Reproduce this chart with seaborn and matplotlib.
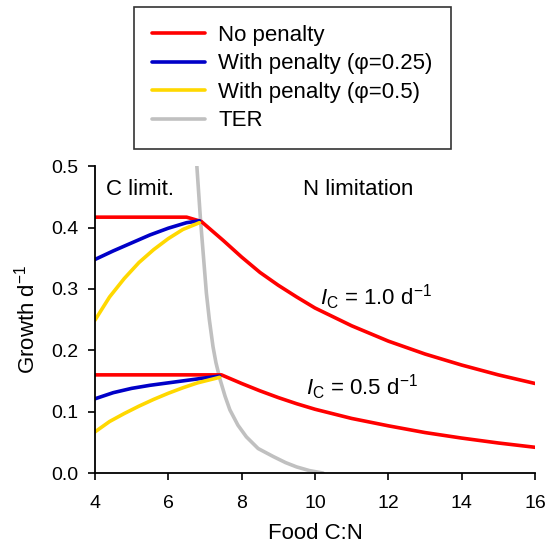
import matplotlib
matplotlib.use("Agg")
import matplotlib.pyplot as plt
import seaborn as sns
import pandas as pd
from matplotlib.ticker import FormatStrFormatter

# values
hi_red_x = [4.0, 5.0, 6.0, 6.5, 6.9, 7.5, 8.0, 8.5, 9.0, 9.5, 10.0, 11.0, 12.0, 13.0, 14.0, 15.0, 16.0]
hi_red_y = [0.417, 0.417, 0.417, 0.417, 0.410, 0.379, 0.352, 0.327, 0.306, 0.287, 0.269, 0.240, 0.215, 0.194, 0.176, 0.160, 0.146]
lo_red_x = [4.0, 5.0, 6.0, 7.0, 7.45, 8.0, 8.5, 9.0, 9.5, 10.0, 11.0, 12.0, 13.0, 14.0, 15.0, 16.0]
lo_red_y = [0.160, 0.160, 0.160, 0.160, 0.160, 0.146, 0.134, 0.123, 0.113, 0.104, 0.089, 0.077, 0.066, 0.057, 0.049, 0.042]

hi_blue_x = [4.0, 4.5, 5.0, 5.5, 6.0, 6.5, 6.85]
hi_blue_y = [0.348, 0.362, 0.375, 0.388, 0.399, 0.408, 0.411]
lo_blue_x = [4.0, 4.5, 5.0, 5.5, 6.0, 6.5, 7.0, 7.4]
lo_blue_y = [0.121, 0.131, 0.138, 0.143, 0.147, 0.151, 0.155, 0.158]

hi_yel_x = [4.0, 4.4, 4.8, 5.2, 5.6, 6.0, 6.4, 6.85]
hi_yel_y = [0.249, 0.287, 0.317, 0.343, 0.364, 0.382, 0.397, 0.408]
lo_yel_x = [4.0, 4.4, 4.8, 5.2, 5.6, 6.0, 6.4, 6.8, 7.4]
lo_yel_y = [0.067, 0.084, 0.097, 0.109, 0.120, 0.130, 0.139, 0.147, 0.156]

ter_x = [6.78, 6.88, 6.95, 7.04, 7.12, 7.22, 7.30, 7.41, 7.55, 7.68, 7.90, 8.13, 8.45, 8.86, 9.20, 9.50, 9.85, 10.22]
ter_y = [0.500, 0.412, 0.360, 0.293, 0.250, 0.206, 0.180, 0.153, 0.125, 0.103, 0.078, 0.059, 0.040, 0.027, 0.017, 0.010, 0.004, 0.000]

labels = ["No penalty", "With penalty (\u03c6=0.25)", "With penalty (\u03c6=0.5)", "TER"]
colors = ["#ff0000", "#0000c8", "#ffd800", "#c0c0c0"]

sns.set_style("ticks")
plt.rcParams['font.family'] = ['Liberation Sans', 'DejaVu Sans']
plt.rcParams['mathtext.fontset'] = 'custom'
plt.rcParams['mathtext.rm'] = 'Liberation Sans'
plt.rcParams['mathtext.it'] = 'Liberation Sans:italic'
for key in ['text.color', 'axes.labelcolor', 'xtick.color', 'ytick.color', 'axes.edgecolor']:
    plt.rcParams[key] = 'black'

fig = plt.figure(figsize=(5.55, 5.45), dpi=100)
ax = fig.add_axes([0.171, 0.132, 0.793, 0.563])

lw = 2.6
series = [
    (hi_red_x, hi_red_y, 0), (lo_red_x, lo_red_y, 0),
    (hi_blue_x, hi_blue_y, 1), (lo_blue_x, lo_blue_y, 1),
    (hi_yel_x, hi_yel_y, 2), (lo_yel_x, lo_yel_y, 2),
    (ter_x, ter_y, 3),
]
order = [6, 0, 1, 2, 3, 4, 5]
for i in order:
    xs, ys, k = series[i]
    df = pd.DataFrame({"x": xs, "y": ys})
    sns.lineplot(data=df, x="x", y="y", ax=ax, color=colors[k], lw=lw,
                 sort=False, estimator=None, legend=False)

ax.set_xlim(4, 16)
ax.set_ylim(0, 0.5)
ax.set_xticks([4, 6, 8, 10, 12, 14, 16])
ax.set_yticks([0, 0.1, 0.2, 0.3, 0.4, 0.5])
ax.yaxis.set_major_formatter(FormatStrFormatter('%.1f'))
ax.tick_params(labelsize=14, length=5, width=1.2, direction='out')
ax.tick_params(axis='x', pad=11)
ax.tick_params(axis='y', pad=7)
for s in ['top', 'right']:
    ax.spines[s].set_visible(False)
for s in ['left', 'bottom']:
    ax.spines[s].set_linewidth(1.3)
ax.set_xlabel("Food C:N", fontsize=16, labelpad=8)
ax.set_ylabel("Growth d$^{-1}$", fontsize=16, labelpad=8)

ax.text(4.3, 0.453, "C limit.", fontsize=16)
ax.text(9.67, 0.453, "N limitation", fontsize=16)
ax.text(10.13, 0.274, "$I_\\mathrm{C}$ = 1.0 d$^{-1}$", fontsize=16)
ax.text(9.75, 0.127, "$I_\\mathrm{C}$ = 0.5 d$^{-1}$", fontsize=16)

handles = [plt.Line2D([], [], color=c, lw=lw) for c in colors]
leg = fig.legend(handles, labels, loc='upper left', bbox_to_anchor=(134 / 555, 1 - 7 / 545),
                 fontsize=16, frameon=True, fancybox=False, edgecolor='black',
                 handlelength=2.4, handletextpad=0.6, labelspacing=0.34, borderpad=0.8,
                 borderaxespad=0)
leg.get_frame().set_linewidth(1.2)

fig.savefig("out.png", dpi=100)
